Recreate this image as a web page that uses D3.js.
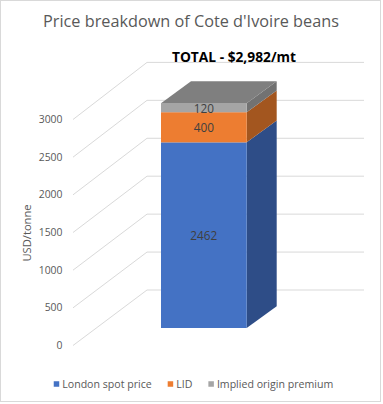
<!DOCTYPE html>
<html>
<head>
<meta charset="utf-8">
<script src="https://cdn.jsdelivr.net/npm/d3@7"></script>
<style>
  html, body { margin: 0; padding: 0; background: #fff; }
  svg { display: block; }
</style>
</head>
<body>
<svg id="chart" width="383" height="404"></svg>
<script>
// ---- data ----
const chartTitle = "Price breakdown of Cote d'Ivoire beans";
const totalLabel = "TOTAL - $2,982/mt";
const axisTitle = "USD/tonne";
const category = "Cote d'Ivoire";
const seriesNames = ["London spot price", "LID", "Implied origin premium"];
const seriesValues = [2462, 400, 120];
const tickValues = [0, 500, 1000, 1500, 2000, 2500, 3000];

// ---- styles ----
const frontColors = ["#4472C4", "#ED7D31", "#A5A5A5"];
const sideColors = ["#2E4D87", "#A3561F", "#727272"];
const topColor = "#7F7F7F";
const gridColor = "#D9D9D9";
const textColor = "#595959";

const svg = d3.select("#chart");

svg.append("rect").attr("x", 0.5).attr("y", 0.5).attr("width", 380).attr("height", 401)
  .attr("fill", "#fff").attr("stroke", gridColor).attr("stroke-width", 1);

function fitWidth(sel, target) {
  const node = sel.node();
  let fs = parseFloat(sel.attr("font-size"));
  for (let i = 0; i < 4; i++) {
    const w = node.getComputedTextLength();
    if (w > 0) fs = fs * target / w;
    sel.attr("font-size", fs.toFixed(2));
  }
}

// scales for the three depth planes
const domain = [0, 3000];
const yLabel = d3.scaleLinear().domain(domain).range([345.5, 119.5]);
const yFront = d3.scaleLinear().domain(domain).range([328, 101.8]);
const yWall = d3.scaleLinear().domain(domain).range([290, 62.4]);
const x = d3.scaleBand().domain([category]).range([161, 246.7]).padding(0);
const depthX = 30, depthY = -21.8;
const sideX0 = 73, wallX0 = 147, wallX1 = 364;

// gridlines: side wall diagonals + back wall horizontals
const grid = svg.append("g").attr("stroke", gridColor).attr("stroke-width", 1).attr("fill", "none");
grid.selectAll("path").data(tickValues).join("path")
  .attr("d", v => `M${sideX0},${yLabel(v)}L${wallX0},${yWall(v)}L${wallX1},${yWall(v)}`);

// axis labels
svg.append("g").selectAll("text").data(tickValues).join("text")
  .attr("x", 62.5).attr("y", v => yLabel(v)).attr("dy", "0.35em")
  .attr("text-anchor", "end").attr("fill", textColor)
  .attr("font-family", "'Open Sans', sans-serif").attr("font-size", 10.4)
  .text(v => v);

// axis title
const at = svg.append("text")
  .attr("transform", "translate(31,233) rotate(-90)")
  .attr("text-anchor", "middle").attr("fill", textColor)
  .attr("font-family", "'Open Sans', sans-serif").attr("font-size", 11)
  .text(axisTitle);
fitWidth(at, 57);

// stacked bar
let cum = 0;
const stack = seriesValues.map((v, i) => { const s = { i, v0: cum, v1: cum + v, v }; cum += v; return s; });
const total = cum;
const bx0 = x(category), bx1 = x(category) + x.bandwidth();
const bar = svg.append("g");
stack.forEach(s => {
  const yT = yFront(s.v1), yB = yFront(s.v0);
  bar.append("path")
    .attr("d", `M${bx1},${yB}L${bx1 + depthX},${yB + depthY}L${bx1 + depthX},${yT + depthY}L${bx1},${yT}Z`)
    .attr("fill", sideColors[s.i]);
  bar.append("rect").attr("x", bx0).attr("y", yT).attr("width", bx1 - bx0).attr("height", yB - yT)
    .attr("fill", frontColors[s.i]);
});
const yTop = yFront(total);
bar.append("path")
  .attr("d", `M${bx0},${yTop}L${bx0 + depthX},${yTop + depthY}L${bx1 + depthX},${yTop + depthY}L${bx1},${yTop}Z`)
  .attr("fill", topColor);

// data labels
svg.append("g").selectAll("text").data(stack).join("text")
  .attr("x", (bx0 + bx1) / 2)
  .attr("y", s => (yFront(s.v0) + yFront(s.v1)) / 2 + 1)
  .attr("dy", "0.35em").attr("text-anchor", "middle")
  .attr("fill", "#404040").attr("font-family", "'Open Sans', sans-serif").attr("font-size", 11.8)
  .text(s => s.v);

// title
const t = svg.append("text").attr("x", 191).attr("y", 27).attr("text-anchor", "middle")
  .attr("fill", textColor).attr("font-family", "'Open Sans', sans-serif").attr("font-size", 17)
  .text(chartTitle);
fitWidth(t, 296);

// total label
const tl = svg.append("text").attr("x", 234).attr("y", 62).attr("text-anchor", "middle")
  .attr("fill", "#000").attr("font-weight", "bold").attr("font-family", "'Open Sans', sans-serif").attr("font-size", 12)
  .text(totalLabel);
fitWidth(tl, 124);

// legend
const lg = svg.append("g");
const items = seriesNames.map((n, i) => {
  const g = lg.append("g");
  g.append("rect").attr("width", 5.5).attr("height", 5.5).attr("y", -2.75).attr("fill", frontColors[i]);
  const tx = g.append("text").attr("x", 8.5).attr("dy", "0.35em").attr("fill", textColor)
    .attr("font-family", "'Open Sans', sans-serif").attr("font-size", 10.6).text(n);
  return { g, w: 8.5 + tx.node().getComputedTextLength() };
});
const gap = 16;
const totalW = d3.sum(items, d => d.w) + gap * (items.length - 1);
let lx = 193.5 - totalW / 2;
items.forEach(it => { it.g.attr("transform", `translate(${lx},384)`); lx += it.w + gap; });
</script>
</body>
</html>
